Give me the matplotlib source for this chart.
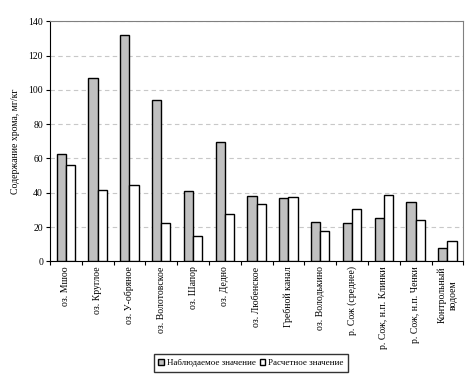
import numpy as np
import matplotlib
matplotlib.use('Agg')
from matplotlib import pyplot as plt

plt.rcParams['font.family'] = ['Liberation Serif', 'DejaVu Serif']

sites = ['оз. Мшоо', 'оз. Круглое', 'оз. У-обряное', 'оз. Волотовское', 'оз. Шапор',
         'оз. Дедно', 'оз. Любенское', 'Гребной канал', 'оз. Володькино',
         'р. Сож (среднее)', 'р. Сож, н.п. Клинки', 'р. Сож, н.п. Ченки',
         'Контрольный\nводоем']
observed = [62.4, 106.8, 132, 94.1, 40.8, 69.4, 37.9, 36.7, 22.7, 22.2, 25.1, 34.4, 7.6]
calculated = [56.2, 41.4, 44.3, 22.2, 14.6, 27.4, 33.2, 37.3, 17.5, 30.3, 38.5, 23.9, 11.7]

fig = plt.figure(figsize=(4.75, 3.81), dpi=100)
ax = fig.add_axes([50/475, 1 - 261.3/381, 413.3/475, 240/381])

x = np.arange(len(sites))
w = 0.29
ax.bar(x - w/2, observed, w, color='#c0c0c0', edgecolor='black', linewidth=1,
       label='Наблюдаемое значение', zorder=3)
ax.bar(x + w/2, calculated, w, color='white', edgecolor='black', linewidth=1,
       label='Расчетное значение', zorder=3)

ax.set_xlim(-0.5, len(sites) - 0.5)
ax.set_ylim(0, 140)
ax.set_yticks(range(0, 141, 20))
ax.tick_params(axis='y', labelsize=7, length=3, direction='out', pad=2)
ax.yaxis.grid(True, linestyle=(0, (4, 3)), color='#c8c8c8', linewidth=0.8, zorder=0)
ax.set_ylabel('Содержание хрома, мг/кг', fontsize=7, labelpad=6)

ax.set_xticks(np.arange(len(sites) + 1) - 0.5)
ax.set_xticklabels([])
ax.tick_params(axis='x', length=3, direction='out')
for i, s in enumerate(sites):
    ax.text(i, -3, s, rotation=90, ha='center', va='top', fontsize=7,
            multialignment='center', transform=ax.transData)

for side in ['top', 'right']:
    ax.spines[side].set_color('#808080')
ax.spines['left'].set_color('black')
ax.spines['bottom'].set_color('black')

leg = fig.legend(loc='center', bbox_to_anchor=(251/475, 1 - 363/381), ncol=2, fontsize=6.5,
                 frameon=True, fancybox=False, edgecolor='black', handlelength=0.6,
                 handleheight=0.6, handletextpad=0.3, columnspacing=0.5,
                 borderpad=0.5)
leg.get_frame().set_linewidth(1)

plt.savefig('out.png', dpi=100)
